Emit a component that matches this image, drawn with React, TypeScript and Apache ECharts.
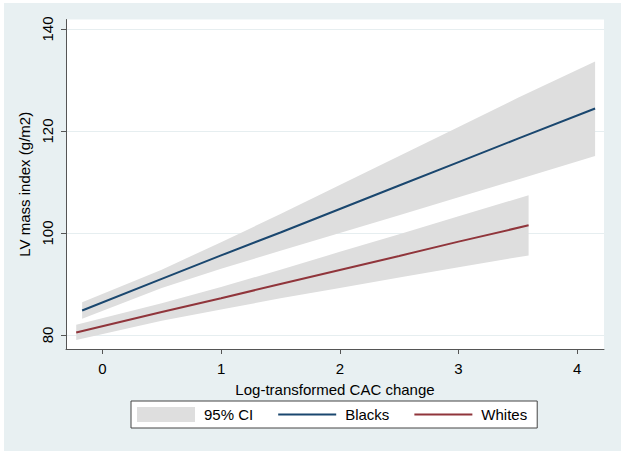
import React, { useEffect, useRef } from 'react';
import * as echarts from 'echarts';

const blacksX = [-0.17, 0.5, 1, 1.5, 2, 2.5, 3, 3.5, 4.15];
const blacksFit = [84.8, 91.0, 95.6, 100.1, 104.7, 109.3, 113.9, 118.5, 124.4];
const blacksUpper = [86.4, 92.8, 98.2, 103.7, 109.4, 115.1, 120.8, 126.5, 133.6];
const blacksLower = [83.2, 89.2, 93.0, 96.5, 100.0, 103.5, 107.0, 110.5, 115.1];

const whitesX = [-0.22, 0.5, 1, 1.5, 2, 2.5, 3, 3.59];
const whitesFit = [80.5, 84.5, 87.2, 90.0, 92.75, 95.5, 98.3, 101.5];
const whitesUpper = [82.0, 86.2, 89.4, 92.8, 96.3, 99.75, 103.3, 107.4];
const whitesLower = [79.0, 82.8, 85.0, 87.2, 89.2, 91.25, 93.3, 95.6];

const xTicks = [0, 1, 2, 3, 4];
const yTicks = [80, 100, 120, 140];

const FONT = '"Liberation Sans", Arial, Helvetica, sans-serif';
const BAND = '#dedede';
const BLUE = '#1a476f';
const RED = '#90353b';
const BG = '#e8f0f2';
const LINE_ICON = 'path://M0,0H58V2H0Z';

function bandSeries(xs: number[], lo: number[], hi: number[]) {
  return {
    type: 'custom',
    name: '95% CI',
    data: xs.map((x, i) => [x, lo[i], hi[i]]),
    encode: { x: 0, y: [1, 2] },
    itemStyle: { color: BAND },
    silent: true,
    z: 1,
    renderItem: (params: any, api: any) => {
      if (params.dataIndex !== 0) return null;
      const pts: number[][] = [];
      for (let i = 0; i < xs.length; i++) pts.push(api.coord([xs[i], hi[i]]));
      for (let i = xs.length - 1; i >= 0; i--) pts.push(api.coord([xs[i], lo[i]]));
      return { type: 'polygon', shape: { points: pts }, style: { fill: BAND } };
    },
  };
}

function lineSeries(name: string, xs: number[], ys: number[], color: string) {
  return {
    type: 'line',
    name,
    data: xs.map((x, i) => [x, ys[i]]),
    showSymbol: false,
    symbol: 'none',
    lineStyle: { color, width: 2 },
    itemStyle: { color },
    z: 3,
    silent: true,
  };
}

export default function App() {
  const ref = useRef<HTMLDivElement>(null);
  useEffect(() => {
    if (!ref.current) return;
    const chart = echarts.init(ref.current, undefined, { renderer: 'svg' });
    chart.setOption({
      animation: false,
      backgroundColor: '#ffffff',
      graphic: [
        {
          type: 'rect',
          z: -10,
          silent: true,
          shape: { x: 4, y: 3, width: 617, height: 448 },
          style: { fill: BG },
        },
      ],
      grid: {
        left: 66,
        right: 21,
        top: 19.5,
        bottom: 106,
        show: true,
        backgroundColor: '#ffffff',
        borderWidth: 0,
        containLabel: false,
        outerBoundsMode: 'none',
      },
      legend: {
        left: 131,
        top: 401,
        orient: 'horizontal',
        backgroundColor: '#ffffff',
        borderColor: '#444444',
        borderWidth: 1,
        borderRadius: 0,
        padding: [6, 10, 6, 6],
        itemGap: 25,
        itemWidth: 58,
        itemHeight: 15,
        symbolKeepAspect: true,
        textStyle: { fontFamily: FONT, fontSize: 15, color: '#000', padding: [0, 0, 0, 4] },
        data: [
          { name: '95% CI', icon: 'rect', itemStyle: { color: BAND } },
          { name: 'Blacks', icon: LINE_ICON, itemStyle: { color: BLUE } },
          { name: 'Whites', icon: LINE_ICON, itemStyle: { color: RED } },
        ],
      },
      xAxis: {
        type: 'value',
        min: -0.306,
        max: 4.225,
        name: 'Log-transformed CAC change',
        nameLocation: 'middle',
        nameGap: 33,
        nameTextStyle: { fontFamily: FONT, fontSize: 15, color: '#000' },
        axisLine: { show: true, onZero: false, lineStyle: { color: '#555', width: 1 } },
        axisTick: { show: true, length: 5, customValues: xTicks, lineStyle: { color: '#555' } },
        axisLabel: { customValues: xTicks, margin: 12, fontFamily: FONT, fontSize: 15, color: '#000' },
        splitLine: { show: false },
      },
      yAxis: {
        type: 'value',
        min: 77.25,
        max: 141.86,
        name: 'LV mass index (g/m2)',
        nameLocation: 'middle',
        nameGap: 32,
        nameTextStyle: { fontFamily: FONT, fontSize: 15, color: '#000' },
        axisLine: { show: true, onZero: false, lineStyle: { color: '#555', width: 1 } },
        axisTick: { show: true, length: 5, customValues: yTicks, lineStyle: { color: '#555' } },
        axisLabel: { customValues: yTicks, rotate: 90, margin: 11, fontFamily: FONT, fontSize: 15, color: '#000' },
        splitLine: { show: true, lineStyle: { color: '#e6eef0', width: 1 } },
      },
      series: [
        bandSeries(blacksX, blacksLower, blacksUpper),
        bandSeries(whitesX, whitesLower, whitesUpper),
        lineSeries('Blacks', blacksX, blacksFit, BLUE),
        lineSeries('Whites', whitesX, whitesFit, RED),
      ],
    });
    return () => chart.dispose();
  }, []);
  return (
    <div
      ref={ref}
      style={{ position: 'absolute', left: 0, top: 0, width: 625, height: 455 }}
    />
  );
}
